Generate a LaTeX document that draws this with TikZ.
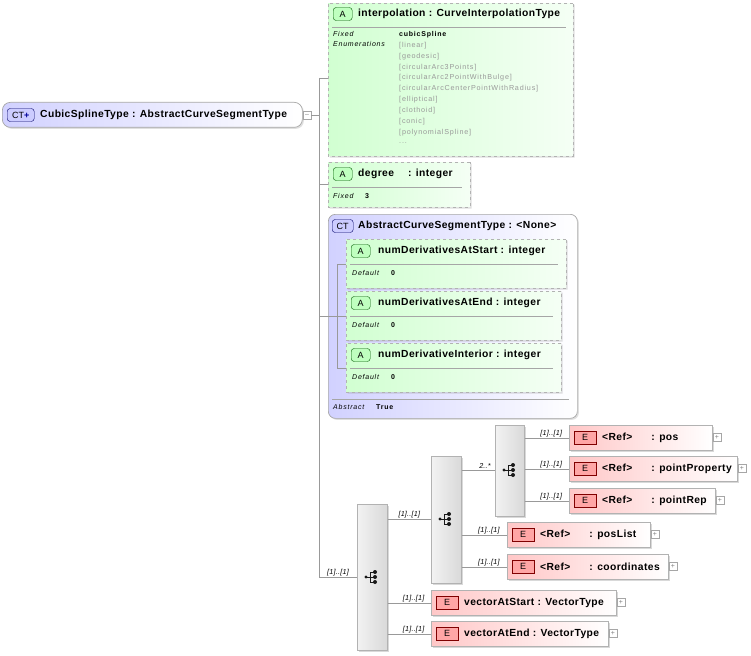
\documentclass[tikz,border=0pt]{standalone}
\usepackage{fontspec}
\setmainfont{Liberation Sans}
\newfontfamily\ttlf[LetterSpace=4]{Liberation Sans}
\newfontfamily\smf[LetterSpace=11]{Liberation Sans}
\newfontfamily\lblf[LetterSpace=3]{Liberation Sans}
\usetikzlibrary{shapes.misc,shadows}
\begin{document}
\begin{tikzpicture}[x=1pt,y=-1pt,
  ttl/.style={font=\ttlf\fontsize{10.3}{11}\selectfont\bfseries,anchor=west,inner sep=0},
  sm/.style={font=\smf\fontsize{7}{8}\selectfont\itshape,anchor=west,inner sep=0},
  smb/.style={font=\smf\fontsize{7}{8}\selectfont\bfseries,anchor=west,inner sep=0},
  enum/.style={font=\smf\fontsize{7.2}{8}\selectfont,text=gray!80,anchor=west,inner sep=0},
  lbl/.style={font=\lblf\fontsize{7.2}{8}\selectfont\itshape,anchor=south,inner sep=1pt},
  con/.style={draw=gray!80,line width=0.6pt},
  attr/.style={chamfered rectangle,chamfered rectangle corners={north west,south west},chamfered rectangle xsep=6pt,chamfered rectangle ysep=6pt,draw=gray!60,dashed,line width=0.7pt,left color=green!18!white,right color=green!4!white,anchor=north west,inner sep=0,drop shadow={opacity=0.25,shadow xshift=1.5pt,shadow yshift=-1.5pt}},
  ct/.style={draw=gray!70,rounded corners=7pt,line width=0.7pt,left color=blue!18!white,right color=white,anchor=north west,inner sep=0,drop shadow={opacity=0.25,shadow xshift=1.5pt,shadow yshift=-1.5pt}},
  elem/.style={draw=gray!60,line width=0.6pt,left color=red!22!white,right color=white,anchor=north west,inner sep=0,minimum height=25pt,drop shadow={opacity=0.3,shadow xshift=1.5pt,shadow yshift=-1.5pt}},
  seq/.style={draw=gray!60,line width=0.6pt,left color=gray!10,right color=gray!30,anchor=north west,inner sep=0,drop shadow={opacity=0.3,shadow xshift=1.5pt,shadow yshift=-1.5pt}},
  aicon/.style={draw=green!35!black,rounded corners=3pt,fill=green!25,minimum width=19pt,minimum height=13pt,inner sep=0,font=\fontsize{9}{9}\selectfont,anchor=west},
  cticon/.style={draw=blue!40!black,rounded corners=3pt,fill=blue!20,minimum width=21pt,minimum height=13pt,inner sep=0,font=\fontsize{9}{9}\selectfont,anchor=west},
  eicon/.style={draw=red!50!black,fill=red!35,minimum width=22pt,minimum height=13pt,inner sep=0,font=\fontsize{9}{9}\selectfont,anchor=west},
  pm/.style={draw=gray!70,fill=white,minimum size=8pt,inner sep=0,font=\fontsize{7}{7}\selectfont,text=gray}
]
\useasboundingbox (0,0) rectangle (751,655);
% root
\node[ct,rounded corners=8pt,minimum width=300pt,minimum height=25pt] (root) at (2,102) {};
\node[cticon,minimum width=27pt] (rooti) at (7,115) {CT\textcolor{blue!60!black}{\bfseries+}};
\node[ttl] (roott) at (40,115) {CubicSplineType : AbstractCurveSegmentType};
\node[pm] (rootm) at (307,115) {--};
\coordinate (trunkTop) at (319,78);
\coordinate (trunkBot) at (319,577);
\draw[con] (rootm.east) -- (319,115);
\draw[con] (trunkTop) -- (trunkBot);

% interpolation
\node[attr,minimum width=245pt,minimum height=153pt] (interp) at (328,3) {};
\node[aicon] (interpi) at (333,14) {A};
\node[ttl] (interpt) at (358,14) {interpolation : CurveInterpolationType};
\draw[gray!70] (332,27) -- (566,27);
\node[sm] (fx1) at (333,34.5) {Fixed};
\node[sm] (enA) at (333,44.5) {Enumerations};
\node[smb] (cs) at (399,34.5) {cubicSpline};
\foreach \tx [count=\i] in {[linear],[geodesic],[circularArc3Points],[circularArc2PointWithBulge],[circularArcCenterPointWithRadius],[elliptical],[clothoid],[conic],[polynomialSpline]}
  \node[enum] (en\i) at (399,34.5+10.9*\i) {\tx};
\node[enum] (enDots) at (399,143.5) {...};
\draw[con] (trunkTop) -- (interp.west |- trunkTop);

% degree
\node[attr,minimum width=142pt,minimum height=45pt] (deg) at (328,162) {};
\node[aicon] (degi) at (333,174) {A};
\node[ttl] (degt) at (358,174) {degree\hspace{14pt}: integer};
\draw[gray!70] (332,187) -- (462,187);
\node[sm] (fx2) at (333,196) {Fixed};
\node[smb] (three) at (365,196) {3};
\draw[con] (319,184) -- (deg.west |- 0,184);

% abstract CT
\node[ct,minimum width=249pt,minimum height=204pt] (act) at (328,214) {};
\node[cticon] (acti) at (332,226) {CT};
\node[ttl] (actt) at (358,226) {AbstractCurveSegmentType : <None>};
\draw[gray!70] (332,399) -- (569,399);
\node[sm] (abs) at (333,407) {Abstract};
\node[smb] (tru) at (376,407) {True};
\draw[con] (319,316) -- (337,316);
\draw[con] (337,264) -- (337,368);
\foreach \nm/\yy/\ww/\tx in {aa/239/220/numDerivativesAtStart,ab/291/215/numDerivativesAtEnd,ac/343/215/numDerivativeInterior}{
  \node[attr,minimum width=\ww pt,minimum height=49pt] (\nm) at (346,\yy) {};
  \node[aicon] (\nm i) at (351,\yy+12) {A};
  \node[ttl] (\nm t) at (378,\yy+12) {\tx\ : integer};
  \draw[gray!70] (350,\yy+25) -- (346+\ww-8,\yy+25);
  \node[sm] (\nm d) at (352,\yy+34) {Default};
  \node[smb] (\nm v) at (391,\yy+34) {0};
  \draw[con] (337,\yy+25) -- (346,\yy+25);
}

% sequences
\newcommand\seqicon[2]{%
  \fill[gray!20!black] (#1-6,#2) circle (1.6pt);
  \draw[gray!20!black,line width=0.8pt] (#1-6,#2) -- (#1-2,#2) (#1-2,#2-5) -- (#1-2,#2+5)
    (#1-2,#2-5) -- (#1+3,#2-5) (#1-2,#2+5) -- (#1+3,#2+5) (#1-2,#2) -- (#1+3,#2);
  \fill[gray!20!black] (#1+3,#2-5) circle (2pt) (#1+3,#2) circle (2pt) (#1+3,#2+5) circle (2pt);}
\node[seq,minimum width=30pt,minimum height=146pt] (s1) at (357,504) {};
\seqicon{372}{577}
\node[seq,minimum width=30pt,minimum height=127pt] (s2) at (431,456) {};
\seqicon{446}{519}
\node[seq,minimum width=29pt,minimum height=91pt] (s3) at (495,425) {};
\seqicon{510}{470}
\draw[con] (trunkBot) -- (s1.west |- trunkBot) node[lbl,pos=0.5] {[1]..[1]};
\draw[con] (s1.east |- 0,519) -- (s2.west |- 0,519) node[lbl,pos=0.5] {[1]..[1]};
\draw[con] (s2.east |- 0,470) -- (s3.west |- 0,470) node[lbl,pos=0.7] {2..*};

% elements
\newcommand\elemnode[6]{% name, x, y, w, src seq, title
  \node[elem,minimum width=#4pt] (#1) at (#2,#3) {};
  \node[eicon] (#1i) at (#2+5,#3+12.5) {E};
  \node[ttl] (#1t) at (#2+33,#3+12.5) {#6};
  \node[pm] (#1p) at (#2+#4+5,#3+12.5) {+};
  \draw[con] (#5.east |- #1.west) -- (#1.west) node[lbl,pos=0.6] {[1]..[1]};}
\elemnode{pos}{569}{425}{143}{s3}{<Ref>\hspace{19pt}: pos}
\elemnode{pp}{569}{456}{168}{s3}{<Ref>\hspace{19pt}: pointProperty}
\elemnode{pr}{569}{488}{146}{s3}{<Ref>\hspace{19pt}: pointRep}
\elemnode{pl}{507}{522}{143}{s2}{<Ref>\hspace{19pt}: posList}
\elemnode{co}{507}{554}{161}{s2}{<Ref>\hspace{19pt}: coordinates}
\elemnode{vs}{431}{590}{185}{s1}{vectorAtStart : VectorType}
\elemnode{ve}{431}{621}{177}{s1}{vectorAtEnd : VectorType}
\end{tikzpicture}
\end{document}
